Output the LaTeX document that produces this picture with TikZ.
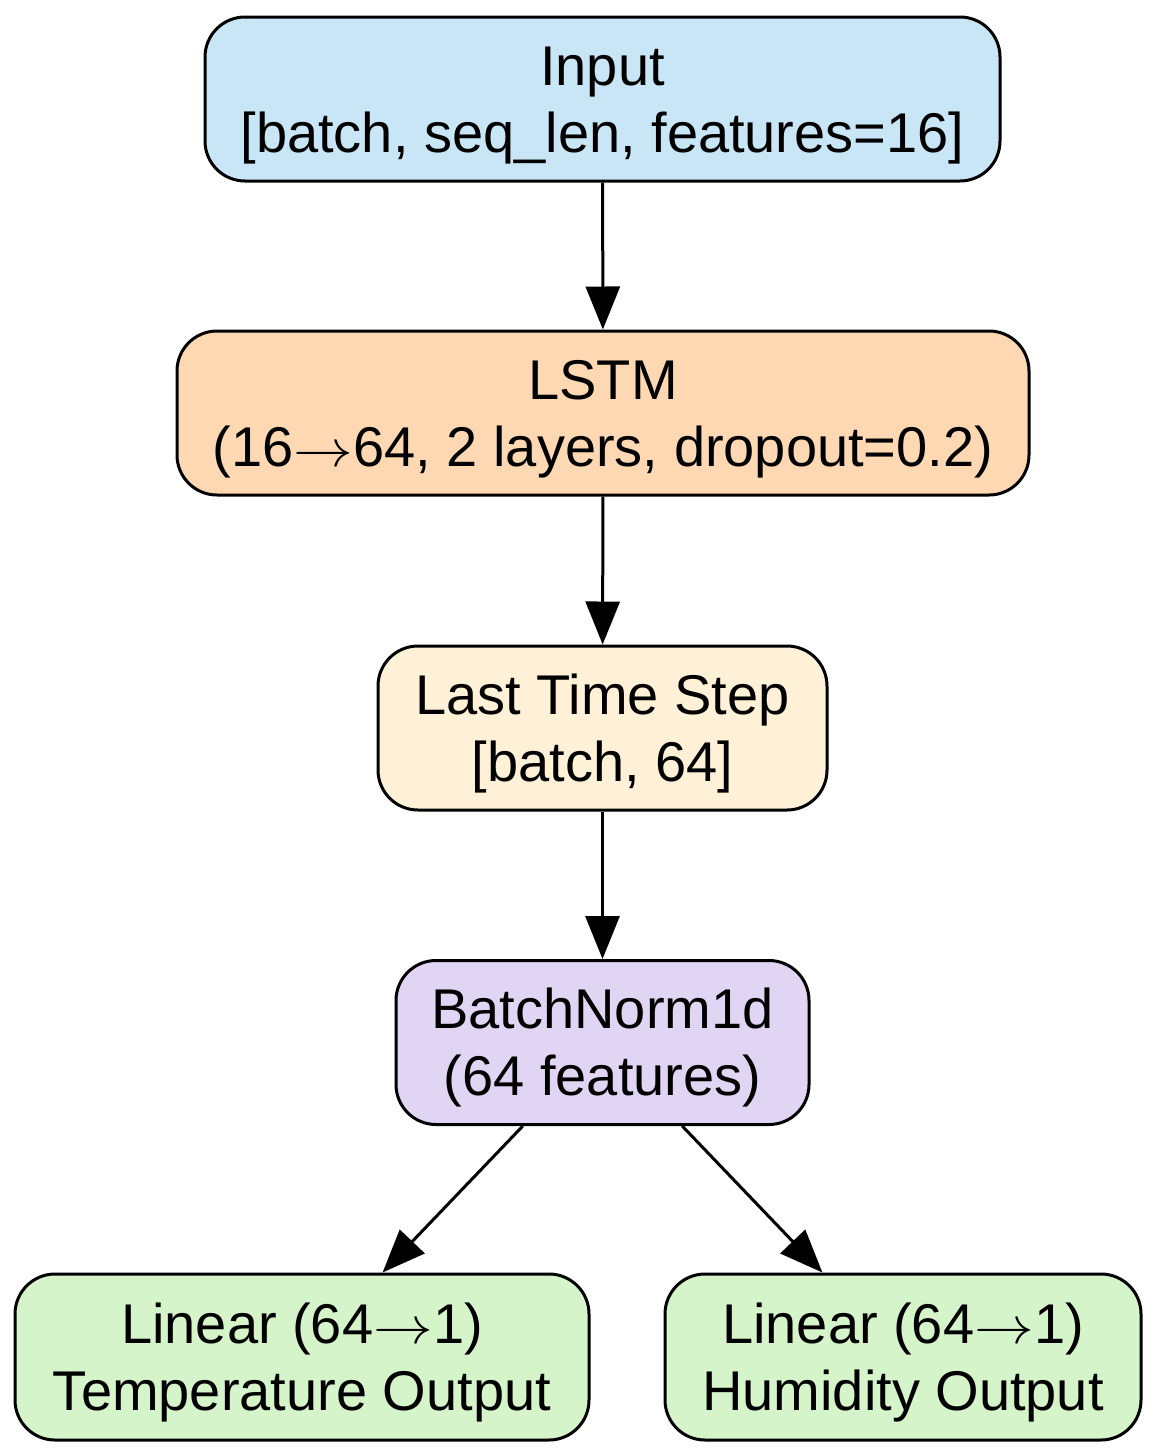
\documentclass[tikz,border=0pt]{standalone}
\usepackage{graphicx}
\usepackage{fontspec}
\setmainfont{Liberation Sans}
\usetikzlibrary{arrows.meta}
\definecolor{cinput}{HTML}{C8E6F5}
\definecolor{clstm}{HTML}{FDD8B3}
\definecolor{clast}{HTML}{FFF0D8}
\definecolor{cbn}{HTML}{E0D6F4}
\definecolor{cout}{HTML}{D6F4C9}
\newcommand{\arr}{\scalebox{1.2}[1.05]{\ensuremath{\rightarrow}}}
\newcommand{\topstrut}{\rule{0pt}{27pt}}
\newcommand{\botstrut}{\rule[-7.5pt]{0pt}{7.5pt}}
\begin{document}
\begin{tikzpicture}[x=0.5pt,y=-0.5pt,
  layer/.style={draw=black, line width=1.5pt, rounded corners=20pt, align=center,
    inner sep=0pt, font=\fontsize{28}{33.5}\selectfont, minimum height=82pt},
  conn/.style={line width=1.5pt, -{Triangle[length=21.5pt,width=17pt]}}]
\useasboundingbox (0,0) rectangle (1158,1456);
\node[layer, fill=cinput, minimum width=397.5pt] (input) at (602.5,99) {\topstrut Input\\{}{[batch, seq\_len, features=16]}\botstrut};
\node[layer, fill=clstm, minimum width=426pt] (lstm) at (603,413) {\topstrut LSTM\\(16\arr64, 2 layers, dropout=0.2)\botstrut};
\node[layer, fill=clast, minimum width=224.5pt] (last) at (602.5,728) {\topstrut Last Time Step\\{}{[batch, 64]}\botstrut};
\node[layer, fill=cbn, minimum width=206.5pt] (bn) at (602.5,1042.5) {\topstrut BatchNorm1d\\(64 features)\botstrut};
\node[layer, fill=cout, minimum width=287pt, minimum height=83pt] (temp) at (302,1357) {\topstrut Linear (64\arr1)\\Temperature Output\botstrut};
\node[layer, fill=cout, minimum width=238pt, minimum height=83pt] (hum) at (903,1357) {\topstrut Linear (64\arr1)\\Humidity Output\botstrut};
\draw[conn] (input) -- (lstm);
\draw[conn] (lstm) -- (last);
\draw[conn] (last) -- (bn);
\draw[conn] (bn) -- (temp);
\draw[conn] (bn) -- (hum);
\end{tikzpicture}
\end{document}
